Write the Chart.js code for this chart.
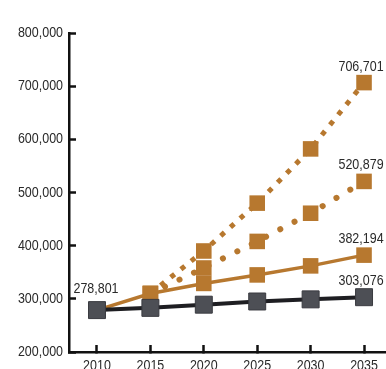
<!DOCTYPE html>
<html>
<head>
<meta charset="utf-8">
<script src="https://cdn.jsdelivr.net/npm/chart.js@4.4.1/dist/chart.umd.min.js"></script>
<style>
  html, body { margin: 0; padding: 0; background: #fff; overflow: hidden; }
  #wrap { position: relative; width: 386px; height: 369px; overflow: hidden; }
</style>
</head>
<body>
<div id="wrap"><canvas id="c" width="400" height="392"></canvas></div>
<script>
// Population projections, 2010-2035
const years = [2010, 2015, 2020, 2025, 2030, 2035];
const lowSeries = [278801, 283000, 289000, 295000, 299000, 303076];
const baseSeries = [278801, 310000, 329000, 345000, 362000, 382194];
const midYears = [2015, 2020, 2025, 2030, 2035];
const midSeries = [310000, 358000, 408000, 461000, 520879];
const highYears = [2015, 2020, 2025, 2030, 2035];
const highSeries = [310000, 390000, 480000, 582000, 706701];
const yTicks = [200000, 300000, 400000, 500000, 600000, 700000, 800000];

const copper = '#b7782f';
const slate = '#4d4f55';
const FONT = '"Liberation Sans", Arial, sans-serif';
const TEXT = '#2a2a2a';
const SQUEEZE = 0.86; // horizontal condensing of all text

const pts = (xs, ys) => xs.map((x, i) => ({ x, y: ys[i] }));
const fmt = v => v.toLocaleString('en-US');

// Draws text condensed horizontally around its anchor point
function narrowText(ctx, str, x, y, align, baseline) {
  ctx.save();
  ctx.translate(x, y);
  ctx.scale(SQUEEZE, 1);
  ctx.textAlign = align;
  ctx.textBaseline = baseline;
  ctx.fillText(str, 0, 0);
  ctx.restore();
}

// Axis tick labels in a condensed face, placed at the scales' tick positions
const narrowTicks = {
  id: 'narrowTicks',
  afterDraw(chart) {
    const ctx = chart.ctx;
    const xs = chart.scales.x, ys = chart.scales.y;
    ctx.save();
    ctx.font = '14.5px ' + FONT;
    ctx.fillStyle = TEXT;
    ys.ticks.forEach(t => {
      narrowText(ctx, fmt(t.value), ys.right - 6, ys.getPixelForValue(t.value), 'right', 'middle');
    });
    xs.ticks.forEach(t => {
      narrowText(ctx, String(t.value), xs.getPixelForValue(t.value), xs.top + 7, 'center', 'top');
    });
    ctx.restore();
  }
};

// Value labels: first point of the low series and last point of every series
const valueLabels = {
  id: 'valueLabels',
  afterDatasetsDraw(chart) {
    const ctx = chart.ctx;
    ctx.save();
    ctx.font = '14.5px ' + FONT;
    ctx.fillStyle = TEXT;
    chart.data.datasets.forEach((ds, di) => {
      const meta = chart.getDatasetMeta(di);
      const last = meta.data[meta.data.length - 1];
      const v = ds.data[ds.data.length - 1].y;
      narrowText(ctx, fmt(v), last.x - 3, last.y - 12, 'center', 'alphabetic');
      if (ds.firstLabel) {
        const first = meta.data[0];
        narrowText(ctx, fmt(ds.data[0].y), first.x - 1, first.y - 17, 'center', 'alphabetic');
      }
    });
    ctx.restore();
  }
};

new Chart(document.getElementById('c'), {
  type: 'line',
  data: {
    datasets: [
      {
        data: pts(years, lowSeries),
        borderColor: '#1e1e22', backgroundColor: slate,
        borderWidth: 4,
        pointStyle: 'rect', pointRadius: 12, pointBorderWidth: 1,
        pointBorderColor: '#3a3b40',
        pointBackgroundColor: slate, tension: 0,
        firstLabel: true
      },
      {
        data: pts(years, baseSeries),
        borderColor: copper, backgroundColor: copper,
        borderWidth: 3.5,
        pointStyle: 'rect', pointRadius: 11, pointBorderWidth: 0,
        pointBackgroundColor: copper, tension: 0
      },
      {
        data: pts(midYears, midSeries),
        borderColor: copper, backgroundColor: copper,
        borderWidth: 6, borderDash: [0.1, 16], borderCapStyle: 'round',
        pointStyle: 'rect', pointRadius: 11, pointBorderWidth: 0,
        pointBackgroundColor: copper, tension: 0
      },
      {
        data: pts(highYears, highSeries),
        borderColor: copper, backgroundColor: copper,
        borderWidth: 5, borderDash: [5, 8], borderCapStyle: 'butt',
        pointStyle: 'rect', pointRadius: 11, pointBorderWidth: 0,
        pointBackgroundColor: copper, tension: 0
      }
    ]
  },
  options: {
    responsive: false,
    animation: false,
    devicePixelRatio: 1,
    layout: { padding: { top: 33, right: 0, left: 0, bottom: 0 } },
    plugins: { legend: { display: false }, tooltip: { enabled: false } },
    scales: {
      x: {
        type: 'linear',
        min: 2007.38,
        max: 2037.15,
        afterBuildTicks: s => { s.ticks = years.map(v => ({ value: v })); },
        afterFit: s => { s.height = 40; },
        border: { display: true, color: '#111', width: 2.5 },
        grid: { display: true, drawOnChartArea: false, drawTicks: true, tickLength: -7, tickWidth: 2.5, tickColor: '#111' },
        ticks: { display: false }
      },
      y: {
        min: 200000,
        max: 800000,
        afterBuildTicks: s => { s.ticks = yTicks.map(v => ({ value: v })); },
        afterFit: s => { s.width = 69; },
        border: { display: true, color: '#111', width: 2.5 },
        grid: { display: true, drawOnChartArea: false, drawTicks: true, tickLength: -7, tickWidth: 2.5, tickColor: '#111' },
        ticks: { display: false }
      }
    }
  },
  plugins: [valueLabels, narrowTicks]
});
</script>
</body>
</html>
